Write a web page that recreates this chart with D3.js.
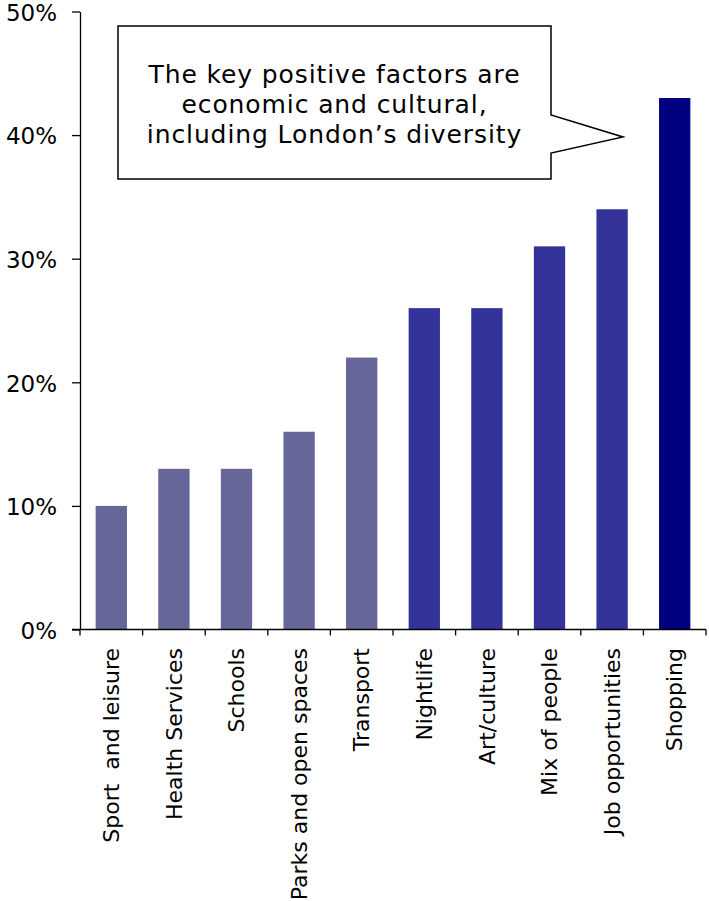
<!DOCTYPE html>
<html>
<head>
<meta charset="utf-8">
<script src="https://cdn.jsdelivr.net/npm/d3@7"></script>
<style>
  html, body { margin: 0; padding: 0; background: #fff; }
  svg { display: block; }
  text { font-family: "DejaVu Sans", Verdana, sans-serif; fill: #000; }
</style>
</head>
<body>
<svg id="chart" width="709" height="901"></svg>
<script>
// Share of respondents naming each factor as a positive about London
const categories = ["Sport  and leisure", "Health Services", "Schools", "Parks and open spaces",
                    "Transport", "Nightlife", "Art/culture", "Mix of people",
                    "Job opportunities", "Shopping"];
const values = [10, 13, 13, 16, 22, 26, 26, 31, 34, 43];
const barColors = ["#666699", "#666699", "#666699", "#666699", "#666699",
                   "#333399", "#333399", "#333399", "#333399", "#000080"];
const yTicks = [0, 10, 20, 30, 40, 50];
const calloutLines = ["The key positive factors are",
                      "economic and cultural,",
                      "including London\u2019s diversity"];

const svg = d3.select("#chart");
const plotLeft = 80, plotRight = 706, plotTop = 11.5, plotBottom = 629.5;

const x = d3.scaleBand().domain(categories).range([plotLeft, plotRight])
  .paddingInner(0.5).paddingOuter(0.25);
const y = d3.scaleLinear().domain([0, 50]).range([plotBottom, plotTop]);

// Bars
svg.append("g").selectAll("rect")
  .data(categories)
  .join("rect")
  .attr("x", d => x(d))
  .attr("y", (d, i) => y(values[i]))
  .attr("width", x.bandwidth())
  .attr("height", (d, i) => y(0) - y(values[i]))
  .attr("fill", (d, i) => barColors[i]);

// Y axis
const yAxis = svg.append("g")
  .attr("transform", `translate(${plotLeft},0)`)
  .call(d3.axisLeft(y).tickValues(yTicks).tickFormat(d => d + "%")
    .tickSize(8).tickSizeOuter(0).tickPadding(15));
yAxis.select(".domain").attr("stroke", "#000").attr("stroke-width", 1.3);
yAxis.selectAll(".tick line").attr("stroke", "#000").attr("stroke-width", 1.3);
yAxis.selectAll(".tick text")
  .style("font-family", "'DejaVu Sans', Verdana, sans-serif")
  .style("font-size", "23px")
  .attr("dy", "0.38em")
  .attr("fill", "#000");

// X axis: baseline with tick marks on category boundaries
const boundaries = d3.range(categories.length + 1)
  .map(i => plotLeft + i * (plotRight - plotLeft) / categories.length);
svg.append("line")
  .attr("x1", plotLeft - 8).attr("x2", plotRight)
  .attr("y1", plotBottom).attr("y2", plotBottom)
  .attr("stroke", "#000").attr("stroke-width", 1.3);
svg.append("g").selectAll("line")
  .data(boundaries)
  .join("line")
  .attr("x1", d => d).attr("x2", d => d)
  .attr("y1", plotBottom).attr("y2", plotBottom + 6)
  .attr("stroke", "#000").attr("stroke-width", 1.3);

// Rotated category labels
svg.append("g").selectAll("text")
  .data(categories)
  .join("text")
  .attr("transform", d => `translate(${x(d) + x.bandwidth() / 2},648) rotate(-90)`)
  .attr("text-anchor", "end")
  .attr("dy", "0.35em")
  .style("font-size", "22px")
  .style("white-space", "pre")
  .text(d => d);

// Callout box with pointer
const bx0 = 118, bx1 = 551, by0 = 26, by1 = 179;
const calloutPath = d3.path();
calloutPath.moveTo(bx0, by0);
calloutPath.lineTo(bx1, by0);
calloutPath.lineTo(bx1, 115);
calloutPath.lineTo(623, 137);
calloutPath.lineTo(bx1, 153);
calloutPath.lineTo(bx1, by1);
calloutPath.lineTo(bx0, by1);
calloutPath.closePath();
svg.append("path")
  .attr("d", calloutPath.toString())
  .attr("fill", "#fff")
  .attr("stroke", "#000")
  .attr("stroke-width", 1.5);

svg.append("g").selectAll("text")
  .data(calloutLines)
  .join("text")
  .attr("x", (bx0 + bx1) / 2)
  .attr("y", (d, i) => 83 + i * 30)
  .attr("text-anchor", "middle")
  .style("font-size", "25px")
  .style("letter-spacing", "0.9px")
  .text(d => d);
</script>
</body>
</html>
